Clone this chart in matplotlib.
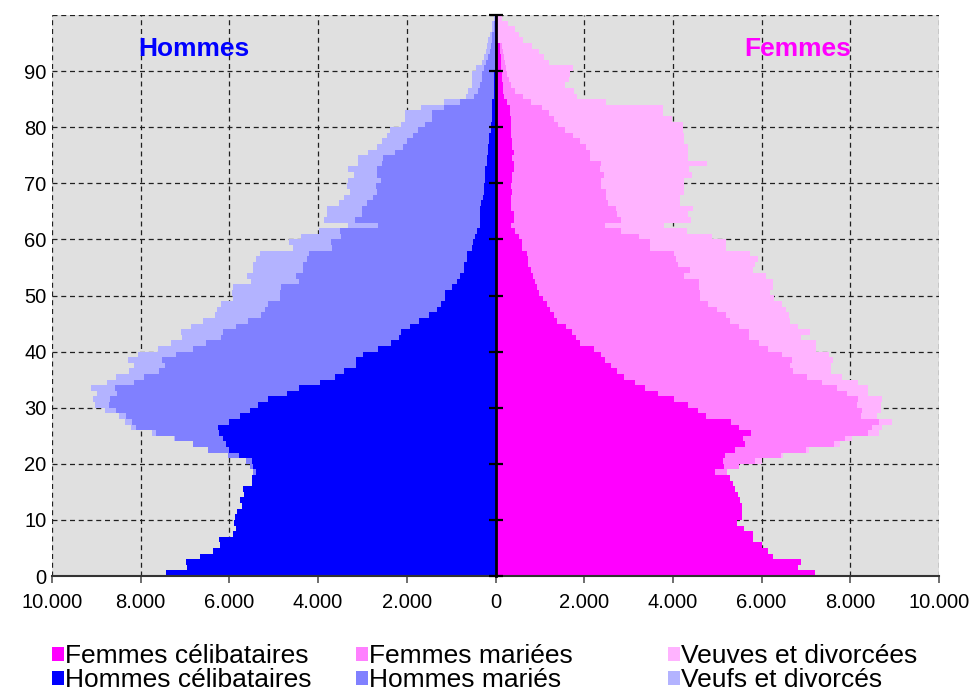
import matplotlib.pyplot as plt
import numpy as np
from matplotlib.patches import Patch
from matplotlib.ticker import FuncFormatter

plt.rcParams['font.family'] = ['Liberation Sans', 'DejaVu Sans']

ages = np.arange(100)

hommes_celib = [7420, 6960, 6970, 6660, 6380, 6210, 6230, 5910, 5840, 5890,
                5870, 5820, 5720, 5750, 5660, 5690, 5480, 5480, 5400, 5470,
                5490, 5780, 6010, 6080, 6140, 6230, 6250, 6000, 5750, 5530,
                5350, 5140, 4690, 4440, 3950, 3630, 3410, 3140, 3140, 2980,
                2640, 2350, 2170, 2120, 1920, 1720, 1510, 1330, 1240, 1130,
                1130, 990, 860, 810, 720, 720, 650, 650, 540, 500,
                470, 410, 340, 340, 340, 360, 320, 290, 270, 250,
                230, 230, 230, 200, 200, 180, 160, 140, 140, 110,
                110, 90, 90, 70, 70, 45, 45, 25, 25, 25,
                20, 15, 10, 8, 6, 5, 4, 3, 2, 1]
hommes_maries = [0, 0, 0, 0, 0, 0, 0, 0, 0, 0,
                 0, 0, 0, 0, 0, 0, 0, 0, 60, 60,
                 130, 250, 480, 750, 1090, 1430, 1860, 2200, 2580, 3030,
                 3360, 3550, 3840, 4150, 4190, 4290, 4170, 4310, 4370, 4220,
                 4170, 4170, 4010, 4020, 3920, 3850, 3770, 3860, 3900, 3740,
                 3740, 3840, 3560, 3680, 3630, 3630, 3610, 3550, 3140, 3220,
                 3020, 3090, 2300, 2820, 2680, 2660, 2570, 2480, 2410, 2440,
                 2350, 2440, 2440, 2350, 2330, 2080, 1920, 1850, 1730, 1630,
                 1490, 1350, 1350, 1080, 720, 430, 340, 335, 290, 270,
                 230, 190, 150, 125, 105, 85, 64, 42, 21, 14]
hommes_veufs = [0, 0, 0, 0, 0, 0, 0, 0, 0, 0,
                0, 0, 0, 0, 0, 0, 0, 0, 0, 0,
                0, 0, 0, 0, 30, 90, 100, 150, 170, 240,
                320, 380, 450, 520, 610, 630, 680, 700, 770, 860,
                810, 790, 880, 950, 1020, 1020, 1040, 1080, 1060, 1060,
                1080, 1100, 1090, 1110, 1110, 1110, 1130, 1100, 880, 930,
                900, 470, 680, 700, 770, 770, 630, 650, 610, 650,
                740, 520, 650, 560, 580, 620, 590, 560, 570, 650,
                540, 590, 590, 520, 380, 200, 230, 180, 225, 225,
                180, 110, 110, 90, 90, 70, 67, 45, 45, 30]

femmes_celib = [7210, 6810, 6880, 6250, 6140, 6000, 5800, 5800, 5600, 5440,
                5550, 5550, 5550, 5510, 5460, 5390, 5350, 5280, 4960, 5160,
                5140, 5170, 5410, 5620, 5570, 5750, 5480, 5300, 4740, 4560,
                4350, 4020, 3660, 3380, 3140, 2890, 2730, 2600, 2480, 2390,
                2210, 1900, 1810, 1720, 1600, 1380, 1330, 1240, 1170, 1080,
                970, 930, 880, 840, 810, 740, 740, 720, 590, 590,
                520, 450, 360, 410, 410, 360, 360, 360, 380, 360,
                380, 380, 410, 410, 380, 410, 380, 380, 360, 340,
                340, 340, 320, 320, 250, 200, 180, 165, 150, 140,
                130, 120, 115, 110, 100, 20, 10, 5, 0, 0]
femmes_mariees = [0, 0, 0, 0, 0, 0, 0, 0, 0, 0,
                  0, 0, 0, 0, 0, 0, 0, 0, 250, 340,
                  720, 1260, 1600, 2010, 2300, 2660, 3000, 3340, 3500, 3700,
                  3810, 4150, 4260, 4310, 4230, 4130, 3970, 4040, 4200, 4080,
                  3930, 4040, 3900, 3990, 3900, 3900, 3860, 3750, 3630, 3520,
                  3630, 3650, 3700, 3400, 3570, 3370, 3340, 3300, 2890, 2890,
                  2710, 2370, 2100, 2430, 2340, 2350, 2170, 2140, 2120, 2030,
                  2010, 2060, 1940, 1960, 1740, 1710, 1650, 1520, 1380, 1220,
                  1060, 990, 880, 720, 540, 430, 250, 175, 150, 120,
                  100, 90, 75, 60, 50, 40, 30, 20, 15, 10]
femmes_veuves = [0, 0, 0, 0, 0, 0, 0, 0, 0, 0,
                 0, 0, 0, 0, 0, 0, 0, 0, 0, 0,
                 140, 50, 70, 140, 160, 230, 230, 290, 360, 430,
                 540, 540, 470, 700, 800, 790, 860, 920, 920, 1040,
                 1080, 1280, 1170, 1380, 1330, 1350, 1420, 1560, 1670, 1690,
                 1600, 1680, 1680, 1850, 1420, 1740, 1850, 1710, 1710, 1710,
                 1650, 1490, 1330, 1560, 1600, 1740, 1620, 1650, 1760, 1850,
                 1850, 1980, 2010, 2390, 2230, 2220, 2300, 2340, 2500, 2660,
                 2820, 2660, 2570, 2730, 1710, 1200, 1330, 1220, 1350, 1420,
                 1515, 990, 910, 800, 670, 560, 480, 405, 265, 140]

x_ticks = np.arange(-10000, 10001, 2000)
y_ticks = np.arange(0, 101, 10)

col_hc, col_hm, col_hv = '#0000FF', '#8080FF', '#B3B3FF'
col_fc, col_fm, col_fv = '#FF00FF', '#FF80FF', '#FFB3FF'

fig = plt.figure(figsize=(9.75, 6.93), dpi=100)
pos = [52 / 975, 117 / 693, 887 / 975, 561 / 693]
ax = fig.add_axes(pos)
ax.set_facecolor('#E0E0E0')

hc = -np.array(hommes_celib)
hm = -np.array(hommes_maries)
hv = -np.array(hommes_veufs)
fc = np.array(femmes_celib)
fm = np.array(femmes_mariees)
fv = np.array(femmes_veuves)

ax.barh(ages, hc, height=1, align='edge', color=col_hc, linewidth=0)
ax.barh(ages, hm, left=hc, height=1, align='edge', color=col_hm, linewidth=0)
ax.barh(ages, hv, left=hc + hm, height=1, align='edge', color=col_hv, linewidth=0)
ax.barh(ages, fc, height=1, align='edge', color=col_fc, linewidth=0)
ax.barh(ages, fm, left=fc, height=1, align='edge', color=col_fm, linewidth=0)
ax.barh(ages, fv, left=fc + fm, height=1, align='edge', color=col_fv, linewidth=0)

ax.set_xlim(-10000, 10000)
ax.set_ylim(0, 100)
ax.set_xticks(x_ticks)
ax.set_yticks(y_ticks)
ax.set_yticklabels([str(v) if v < 100 else '' for v in y_ticks])
ax.xaxis.set_major_formatter(FuncFormatter(lambda v, p: f"{abs(int(v)):,}".replace(',', '.')))
ax.set_axisbelow(True)
ax.grid(True, color='#202020', linestyle=(0, (4, 3)), linewidth=0.9)
for s in ['top', 'right', 'left']:
    ax.spines[s].set_visible(False)
ax.spines['bottom'].set_color('#333333')
ax.spines['bottom'].set_linewidth(1.5)
ax.tick_params(axis='y', length=0, pad=4, labelsize=14.5)
ax.tick_params(axis='x', direction='out', length=5, width=1.2, color='#555555', pad=7, labelsize=14.5)

ax.text(0.160, 0.940, 'Hommes', transform=ax.transAxes, ha='center', va='center',
        color='#0000FF', fontsize=19, fontweight='bold')
ax.text(0.841, 0.940, 'Femmes', transform=ax.transAxes, ha='center', va='center',
        color='#FF00FF', fontsize=19, fontweight='bold')

# axe central avec graduations
ax2 = fig.add_axes(pos)
ax2.patch.set_visible(False)
ax2.set_ylim(0, 100)
ax2.set_xticks([])
ax2.set_yticks(y_ticks)
for s in ['top', 'right', 'bottom']:
    ax2.spines[s].set_visible(False)
ax2.spines['left'].set_position(('axes', 0.5))
ax2.spines['left'].set_linewidth(2)
ax2.spines['left'].set_color('black')
ax2.tick_params(axis='y', direction='inout', length=10, width=1.6, color='black', labelleft=False)

legend_cols = [
    (52, [col_fc, col_hc], ['Femmes célibataires', 'Hommes célibataires']),
    (356, [col_fm, col_hm], ['Femmes mariées', 'Hommes mariés']),
    (668, [col_fv, col_hv], ['Veuves et divorcées', 'Veufs et divorcés']),
]
for x0, cols, labs in legend_cols:
    fig.legend(handles=[Patch(facecolor=c, edgecolor='none') for c in cols], labels=labs,
               loc='upper left', bbox_to_anchor=(x0 / 975, 1 - 644 / 693), frameon=False,
               fontsize=19, handlelength=0.45, handleheight=0.45, handletextpad=0.05,
               labelspacing=0.0, borderpad=0, borderaxespad=0)

fig.savefig('out.png', dpi=100)
